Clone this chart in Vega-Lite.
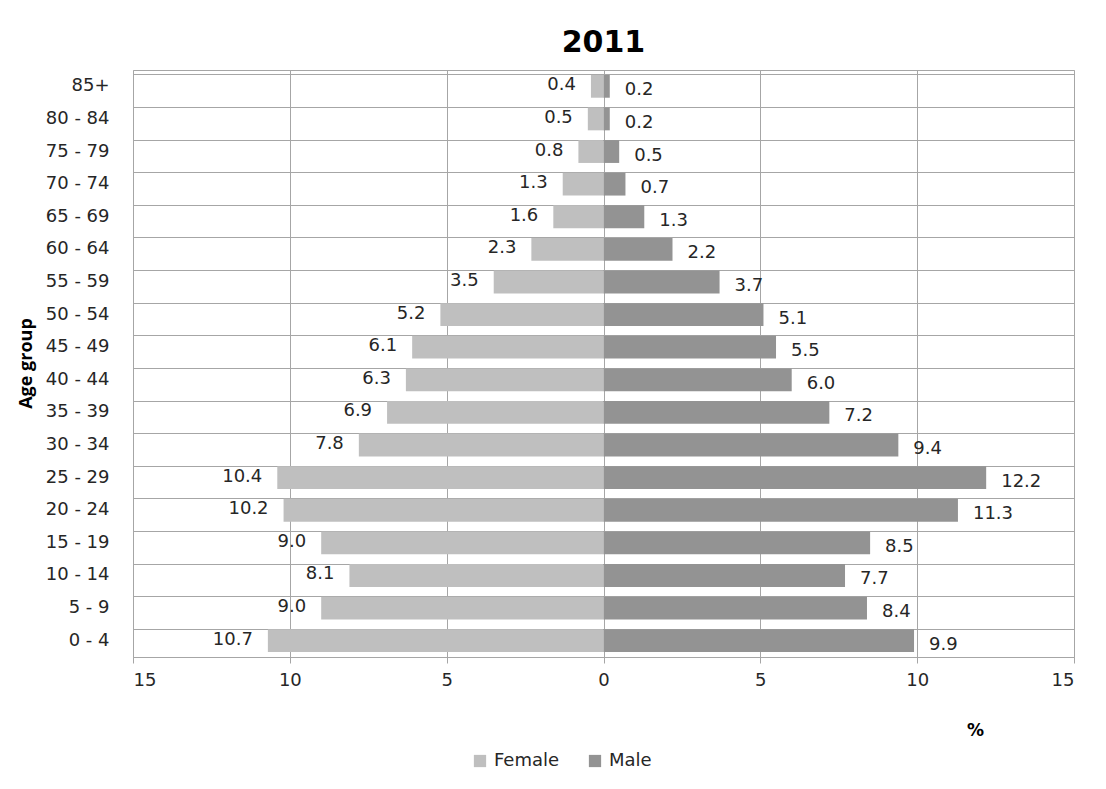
{
  "$schema": "https://vega.github.io/schema/vega-lite/v6.json",
  "width": 941,
  "height": 587,
  "autosize": "none",
  "padding": {"left": 133, "top": 70, "right": 32, "bottom": 132},
  "background": "white",
  "title": {
    "text": "2011",
    "font": "DejaVu Sans",
    "fontSize": 30,
    "fontWeight": "bold",
    "color": "#000000",
    "anchor": "middle",
    "offset": 12
  },
  "config": {
    "view": {"stroke": "#a6a6a6", "strokeWidth": 1},
    "font": "DejaVu Sans"
  },
  "data": {
    "values": [
      {"age": "0 - 4", "sex": "Female", "value": -10.7},
      {"age": "0 - 4", "sex": "Male", "value": 9.9},
      {"age": "5 - 9", "sex": "Female", "value": -9.0},
      {"age": "5 - 9", "sex": "Male", "value": 8.4},
      {"age": "10 - 14", "sex": "Female", "value": -8.1},
      {"age": "10 - 14", "sex": "Male", "value": 7.7},
      {"age": "15 - 19", "sex": "Female", "value": -9.0},
      {"age": "15 - 19", "sex": "Male", "value": 8.5},
      {"age": "20 - 24", "sex": "Female", "value": -10.2},
      {"age": "20 - 24", "sex": "Male", "value": 11.3},
      {"age": "25 - 29", "sex": "Female", "value": -10.4},
      {"age": "25 - 29", "sex": "Male", "value": 12.2},
      {"age": "30 - 34", "sex": "Female", "value": -7.8},
      {"age": "30 - 34", "sex": "Male", "value": 9.4},
      {"age": "35 - 39", "sex": "Female", "value": -6.9},
      {"age": "35 - 39", "sex": "Male", "value": 7.2},
      {"age": "40 - 44", "sex": "Female", "value": -6.3},
      {"age": "40 - 44", "sex": "Male", "value": 6.0},
      {"age": "45 - 49", "sex": "Female", "value": -6.1},
      {"age": "45 - 49", "sex": "Male", "value": 5.5},
      {"age": "50 - 54", "sex": "Female", "value": -5.2},
      {"age": "50 - 54", "sex": "Male", "value": 5.1},
      {"age": "55 - 59", "sex": "Female", "value": -3.5},
      {"age": "55 - 59", "sex": "Male", "value": 3.7},
      {"age": "60 - 64", "sex": "Female", "value": -2.3},
      {"age": "60 - 64", "sex": "Male", "value": 2.2},
      {"age": "65 - 69", "sex": "Female", "value": -1.6},
      {"age": "65 - 69", "sex": "Male", "value": 1.3},
      {"age": "70 - 74", "sex": "Female", "value": -1.3},
      {"age": "70 - 74", "sex": "Male", "value": 0.7},
      {"age": "75 - 79", "sex": "Female", "value": -0.8},
      {"age": "75 - 79", "sex": "Male", "value": 0.5},
      {"age": "80 - 84", "sex": "Female", "value": -0.5},
      {"age": "80 - 84", "sex": "Male", "value": 0.2},
      {"age": "85+", "sex": "Female", "value": -0.4},
      {"age": "85+", "sex": "Male", "value": 0.2}
    ]
  },
  "transform": [
    {"calculate": "format(abs(datum.value), '.1f')", "as": "label"}
  ],
  "encoding": {
    "y": {
      "field": "age",
      "type": "nominal",
      "sort": ["85+", "80 - 84", "75 - 79", "70 - 74", "65 - 69", "60 - 64", "55 - 59", "50 - 54", "45 - 49", "40 - 44", "35 - 39", "30 - 34", "25 - 29", "20 - 24", "15 - 19", "10 - 14", "5 - 9", "0 - 4"],
      "scale": {"paddingInner": 0.3, "paddingOuter": 0.15},
      "axis": {
        "title": "Age group",
        "titleFont": "Open Sans",
        "titleFontSize": 18,
        "titleFontWeight": "bold",
        "titleColor": "#000000",
        "titleAngle": 270,
        "titleAlign": "center",
        "titleBaseline": "middle",
        "titleX": -107,
        "titleY": 293,
        "labelFont": "DejaVu Sans",
        "labelFontSize": 18,
        "labelColor": "#262626",
        "labelPadding": 24,
        "ticks": false,
        "domain": false,
        "grid": true,
        "bandPosition": 0,
        "gridColor": "#a6a6a6",
        "gridWidth": 1
      }
    },
    "x": {
      "field": "value",
      "type": "quantitative",
      "scale": {"domain": [-15, 15], "nice": false},
      "axis": {
        "values": [-15, -10, -5, 0, 5, 10, 15],
        "labelExpr": "abs(datum.value)",
        "title": "%",
        "titleFont": "DejaVu Sans",
        "titleFontSize": 17,
        "titleFontWeight": "bold",
        "titleColor": "#000000",
        "titleX": 842,
        "titleY": 73,
        "titleAlign": "center",
        "titleBaseline": "middle",
        "labelFont": "DejaVu Sans",
        "labelFontSize": 18,
        "labelColor": "#262626",
        "labelPadding": 8,
        "tickSize": 6,
        "tickColor": "#a6a6a6",
        "domainColor": "#a6a6a6",
        "grid": true,
        "gridColor": "#a6a6a6",
        "gridWidth": 1
      }
    }
  },
  "layer": [
    {
      "mark": {"type": "bar"},
      "encoding": {
        "color": {
          "field": "sex",
          "type": "nominal",
          "scale": {"domain": ["Female", "Male"], "range": ["#bfbfbf", "#939393"]},
          "legend": {
            "title": null,
            "orient": "none",
            "direction": "horizontal",
            "legendX": 338,
            "legendY": 682,
            "symbolType": "square",
            "symbolSize": 150,
            "symbolStrokeWidth": 0,
            "labelFont": "DejaVu Sans",
            "labelFontSize": 18,
            "labelColor": "#262626",
            "columnPadding": 26,
            "labelOffset": 5
          }
        }
      }
    },
    {
      "transform": [{"filter": "datum.sex === 'Female'"}],
      "mark": {"type": "text", "align": "right", "baseline": "middle", "dx": -15, "dy": -1, "font": "DejaVu Sans", "fontSize": 18, "color": "#262626"},
      "encoding": {"text": {"field": "label"}}
    },
    {
      "transform": [{"filter": "datum.sex === 'Male'"}],
      "mark": {"type": "text", "align": "left", "baseline": "middle", "dx": 15, "dy": 4, "font": "DejaVu Sans", "fontSize": 18, "color": "#262626"},
      "encoding": {"text": {"field": "label"}}
    }
  ]
}
